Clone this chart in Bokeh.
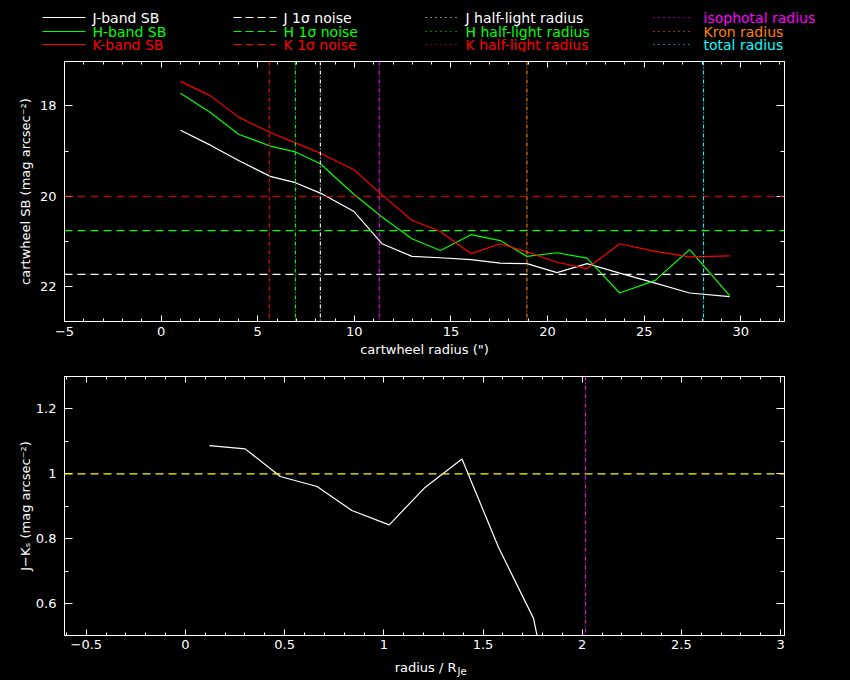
import math
from bokeh.plotting import figure
from bokeh.models import (Range1d, LinearAxis, FixedTicker, Span,
                          CustomJSTickFormatter, ColumnDataSource)
from bokeh.layouts import column
from bokeh.embed import file_html
from bokeh.resources import INLINE
from bokeh.core.properties import value

# ---------------- data ----------------
radius = [1.0, 2.55, 4.01, 5.65, 6.95, 8.24, 9.96, 11.43, 12.98, 14.45,
          16.04, 17.55, 18.93, 20.49, 22.04, 23.73, 25.57, 27.35, 29.42]
j_sb = [18.54, 18.87, 19.21, 19.56, 19.70, 19.93, 20.33, 21.05, 21.33, 21.36,
        21.40, 21.48, 21.49, 21.69, 21.49, 21.70, 21.92, 22.14, 22.22]
h_sb = [17.72, 18.15, 18.63, 18.89, 19.02, 19.28, 19.95, 20.46, 20.94, 21.20,
        20.85, 20.98, 21.33, 21.25, 21.37, 22.14, 21.86, 21.18, 22.20]
k_sb = [17.46, 17.78, 18.25, 18.59, 18.82, 19.05, 19.41, 19.97, 20.53, 20.78,
        21.27, 21.05, 21.23, 21.46, 21.60, 21.05, 21.22, 21.34, 21.32]

j_noise = 21.73
h_noise = 20.76
k_noise = 20.00

k_half_light = 5.60
h_half_light = 6.95
j_half_light = 8.24
iso_radius = 11.29
kron_radius = 18.93
total_radius = 28.07

r_norm = [0.121, 0.301, 0.478, 0.663, 0.839, 1.027, 1.209, 1.394, 1.578, 1.755, 1.94]
j_minus_k = [1.087, 1.077, 0.992, 0.961, 0.887, 0.843, 0.959, 1.046, 0.774, 0.554, 0.0]
jk_reference = 1.0
iso_norm = 2.017

top_x_major = [-5, 0, 5, 10, 15, 20, 25, 30]
top_x_minor = list(range(-5, 33))
top_y_major = [18, 20, 22]
top_y_minor = [17, 18, 19, 20, 21, 22]
bot_x_major = [-0.5, 0, 0.5, 1, 1.5, 2, 2.5, 3]
bot_x_minor = [round(-0.6 + 0.1 * i, 1) for i in range(37)]
bot_y_major = [0.6, 0.8, 1.0, 1.2]
bot_y_minor = [0.5, 0.6, 0.7, 0.8, 0.9, 1.0, 1.1, 1.2, 1.3]

legend_sb = ["J-band SB", "H-band SB", "K-band SB"]
legend_noise = ["J 1\u03c3 noise", "H 1\u03c3 noise", "K 1\u03c3 noise"]
legend_half = ["J half-light radius", "H half-light radius", "K half-light radius"]
legend_rad = ["isophotal radius", "Kron radius", "total radius"]

WHITE, GREEN, RED = "#ffffff", "#00ff00", "#ff0000"
MAGENTA, ORANGE, CYAN, YELLOW = "#ff00ff", "#ff8000", "#00ffff", "#ffff00"
FONT = "DejaVu Sans"
DASH = "8 5"
DASHDOT = "4 2 1 2"

# ---------------- layout geometry (page has no margin) ----------------
W = 848
LEG_H = 52
TOP_H, TOP_BT, TOP_BB = 314, 9, 45
BOT_H, BOT_BT, BOT_BB = 291, 10, 22
XL_H = 680 - LEG_H - TOP_H - BOT_H
BL, BR = 64, W - 64 - 720

fmt_code = """
var s = Number(tick.toFixed(2)).toString();
return s.replace('-', '\u2212');
"""


def no_align(fig):
    try:
        fig.frame_align = False
    except Exception:
        pass


def style_axis(ax, major, minor, labels, tin, mtin):
    ax.ticker = FixedTicker(ticks=major, minor_ticks=minor)
    ax.axis_line_color = WHITE
    ax.major_tick_line_color = WHITE
    ax.minor_tick_line_color = WHITE
    ax.major_tick_in = int(tin)
    ax.major_tick_out = 0
    ax.minor_tick_in = int(mtin)
    ax.minor_tick_out = 0
    if labels:
        ax.formatter = CustomJSTickFormatter(code=fmt_code)
        ax.major_label_text_color = WHITE
        ax.major_label_text_font = FONT
        ax.major_label_text_font_size = "13px"
        ax.axis_label_text_color = WHITE
        ax.axis_label_text_font = FONT
        ax.axis_label_text_font_size = "13px"
        ax.axis_label_text_font_style = "normal"
    else:
        ax.formatter = CustomJSTickFormatter(code="return '';")
        ax.major_label_text_font_size = "0px"
        ax.major_label_standoff = 0


def make_fig(h, bt, bb, xr, yr):
    p = figure(width=W, height=h, x_range=xr, y_range=yr,
               output_backend="svg", toolbar_location=None, tools="",
               min_border_left=BL, min_border_right=BR,
               min_border_top=bt, min_border_bottom=bb,
               background_fill_color="black", border_fill_color="black",
               outline_line_color=WHITE)
    p.grid.visible = False
    no_align(p)
    return p


def add_frame_axes(p, xmaj, xmin, ymaj, ymin, xt, yt):
    bottom = p.below[0]
    left = p.left[0]
    style_axis(bottom, xmaj, xmin, True, xt, xt // 2)
    style_axis(left, ymaj, ymin, True, yt, yt // 2)
    bottom.major_label_standoff = 5
    left.major_label_standoff = 8
    top = LinearAxis()
    style_axis(top, xmaj, xmin, False, xt, xt // 2)
    p.add_layout(top, "above")
    right = LinearAxis()
    style_axis(right, ymaj, ymin, False, yt, yt // 2)
    p.add_layout(right, "right")
    return bottom, left


def strip(h):
    s = figure(width=W, height=h, x_range=Range1d(0, W), y_range=Range1d(h, 0),
               x_axis_type=None, y_axis_type=None,
               output_backend="svg", toolbar_location=None, tools="",
               min_border=0, min_border_left=0, min_border_right=0,
               min_border_top=0, min_border_bottom=0,
               background_fill_color="black", border_fill_color="black",
               outline_line_color=None)
    s.grid.visible = False
    no_align(s)
    return s


# ---------------- legend strip ----------------
leg = strip(LEG_H)
rows = [17, 31, 44]
band_colors = [WHITE, GREEN, RED]
rad_colors = [MAGENTA, ORANGE, CYAN]

leg.segment(x0=[42] * 3, x1=[85] * 3, y0=rows, y1=rows, line_color=band_colors, line_width=1.2)
leg.segment(x0=[233] * 3, x1=[276] * 3, y0=rows, y1=rows, line_color=band_colors,
            line_width=1.2, line_dash="8 4")
leg.segment(x0=[425] * 3, x1=[457] * 3, y0=rows, y1=rows, line_color=band_colors,
            line_width=1.2, line_dash="1 4")
leg.segment(x0=[653] * 3, x1=[693] * 3, y0=rows, y1=rows, line_color=rad_colors,
            line_width=1.2, line_dash="1 4")
for xpos, texts, cols in [(92, legend_sb, band_colors), (283, legend_noise, band_colors),
                          (465, legend_half, band_colors), (703, legend_rad, rad_colors)]:
    src = ColumnDataSource(dict(x=[xpos] * 3, y=rows, t=texts, c=cols))
    leg.text(x="x", y="y", text="t", text_color="c", source=src,
             text_font=value(FONT), text_font_size=value("14px"),
             text_baseline="middle", text_align="left")

# ---------------- top panel ----------------
p1 = make_fig(TOP_H, TOP_BT, TOP_BB, Range1d(-5.0, 32.26), Range1d(22.77, 17.02))
b1, l1 = add_frame_axes(p1, top_x_major, top_x_minor, top_y_major, top_y_minor, 6, 8)
b1.axis_label = "cartwheel radius (\")"
b1.axis_label_standoff = 3
l1.axis_label = "cartwheel SB (mag arcsec\u207b\u00b2)"
l1.axis_label_standoff = 4

for loc, col in [(j_noise, WHITE), (h_noise, GREEN), (k_noise, RED)]:
    p1.add_layout(Span(location=loc, dimension="width", line_color=col,
                       line_dash=DASH, line_width=1.2))
for loc, col in [(k_half_light, RED), (h_half_light, GREEN), (j_half_light, WHITE),
                 (iso_radius, MAGENTA), (kron_radius, ORANGE), (total_radius, CYAN)]:
    p1.add_layout(Span(location=loc, dimension="height", line_color=col,
                       line_dash=DASHDOT, line_width=1.1))

p1.line(radius, j_sb, line_color=WHITE, line_width=1.2)
p1.line(radius, h_sb, line_color=GREEN, line_width=1.2)
p1.line(radius, k_sb, line_color=RED, line_width=1.2)

# ---------------- bottom panel ----------------
p2 = make_fig(BOT_H, BOT_BT, BOT_BB, Range1d(-0.61, 3.02), Range1d(0.502, 1.30))
b2, l2 = add_frame_axes(p2, bot_x_major, bot_x_minor, bot_y_major, bot_y_minor, 6, 8)
b2.major_label_standoff = 4
l2.axis_label = "J\u2212K\u209b (mag arcsec\u207b\u00b2)"
l2.axis_label_standoff = 0

p2.add_layout(Span(location=jk_reference, dimension="width", line_color=YELLOW,
                   line_dash=DASH, line_width=1.2))
p2.add_layout(Span(location=iso_norm, dimension="height", line_color=MAGENTA,
                   line_dash=DASHDOT, line_width=1.1))
p2.line(r_norm, j_minus_k, line_color=WHITE, line_width=1.2)

# ---------------- bottom x-axis title strip (subscripted R_Je) ----------------
xl = strip(XL_H)
xl.text(x=[456], y=[XL_H - 13], text=["radius / R"], text_color=WHITE,
        text_font=value(FONT), text_font_size=value("13px"),
        text_align="right", text_baseline="alphabetic")
xl.text(x=[457], y=[XL_H - 9], text=["Je"], text_color=WHITE,
        text_font=value(FONT), text_font_size=value("10px"),
        text_align="left", text_baseline="alphabetic")

layout = column(leg, p1, p2, xl, spacing=0)

html = file_html(layout, INLINE)
html = html.replace("<body>", "<body style=\"background-color:#000000\">")
open("out.html", "w").write(html)
